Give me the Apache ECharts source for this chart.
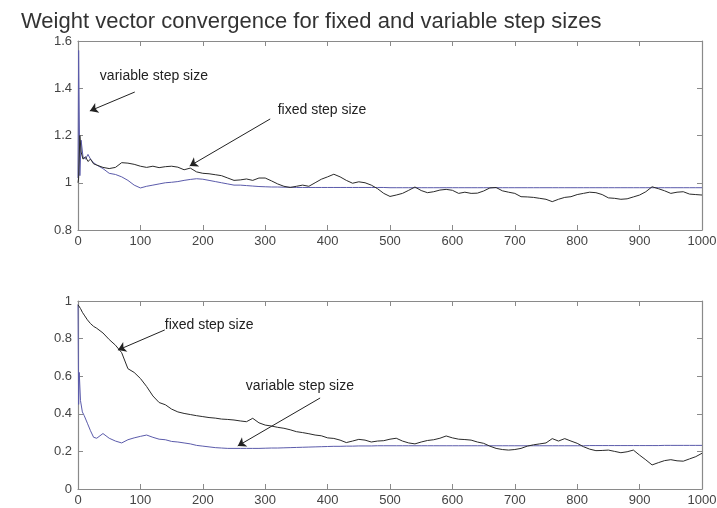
<!DOCTYPE html>
<html>
<head>
<meta charset="utf-8">
<script src="https://cdn.jsdelivr.net/npm/echarts@6/dist/echarts.min.js"></script>
<style>html,body{margin:0;padding:0;background:#fff}#c{width:717px;height:508px}</style>
</head>
<body>
<div id="c"></div>
<script>
var titleText = "Weight vector convergence for fixed and variable step sizes";
var xTicks = [0,100,200,300,400,500,600,700,800,900,1000];

var topX = [0,1,3,5,8,12,16,20,25,30,40,50,60,70,80,90,100,110,120,130,140,150,160,170,180,190,200,210,220,230,240,250,260,270,280,290,300,310,320,330,340,350,360,370,380,390,400,410,420,430,440,450,460,470,480,490,500,510,520,530,540,550,560,570,580,590,600,610,620,630,640,650,660,670,680,690,700,710,720,730,740,750,760,770,780,790,800,810,820,830,840,850,860,870,880,890,900,910,920,930,940,950,960,970,980,990,1000];
var topFixed = [1.0,1.02,1.2,1.13,1.1,1.11,1.09,1.1,1.08,1.075,1.065,1.06,1.065,1.085,1.083,1.078,1.07,1.065,1.07,1.064,1.068,1.07,1.066,1.055,1.062,1.046,1.04,1.038,1.034,1.03,1.02,1.01,1.012,1.016,1.01,1.02,1.02,1.008,0.995,0.985,0.98,0.985,0.99,0.985,1.0,1.015,1.025,1.036,1.025,1.01,0.998,1.004,1.0,0.99,0.975,0.955,0.942,0.948,0.955,0.968,0.982,0.967,0.958,0.962,0.969,0.972,0.968,0.955,0.96,0.955,0.956,0.965,0.978,0.98,0.966,0.96,0.955,0.941,0.94,0.938,0.934,0.93,0.92,0.93,0.938,0.941,0.95,0.955,0.96,0.958,0.95,0.936,0.934,0.93,0.932,0.94,0.948,0.962,0.983,0.975,0.966,0.955,0.96,0.962,0.952,0.95,0.948];
var topVariable = [1.02,1.56,1.03,1.18,1.11,1.1,1.12,1.1,1.085,1.075,1.06,1.04,1.035,1.025,1.01,0.99,0.978,0.985,0.99,0.995,1.0,1.002,1.005,1.01,1.014,1.017,1.015,1.01,1.005,1.0,0.995,0.99,0.99,0.988,0.986,0.984,0.983,0.982,0.982,0.981,0.981,0.98,0.98,0.98,0.98,0.98,0.98,0.98,0.98,0.98,0.98,0.98,0.98,0.98,0.98,0.98,0.979,0.979,0.979,0.979,0.979,0.979,0.979,0.979,0.979,0.979,0.979,0.979,0.979,0.979,0.979,0.979,0.979,0.979,0.979,0.979,0.979,0.979,0.979,0.979,0.979,0.979,0.979,0.979,0.979,0.979,0.979,0.979,0.979,0.979,0.979,0.979,0.979,0.979,0.979,0.979,0.979,0.979,0.979,0.979,0.979,0.979,0.979,0.979,0.979,0.979,0.979];

var botX = [0,1,2,4,7,10,15,20,25,30,40,50,60,70,80,90,100,110,120,130,140,150,160,170,180,190,200,210,220,230,240,250,260,270,280,290,300,310,320,330,340,350,360,370,380,390,400,410,420,430,440,450,460,470,480,490,500,510,520,530,540,550,560,570,580,590,600,610,620,630,640,650,660,670,680,690,700,710,720,730,740,750,760,770,780,790,800,810,820,830,840,850,860,870,880,890,900,910,920,930,940,950,960,970,980,990,1000];
var botFixed = [0.98,0.99,0.98,0.96,0.94,0.925,0.9,0.88,0.865,0.855,0.83,0.795,0.765,0.725,0.64,0.62,0.588,0.545,0.495,0.46,0.448,0.425,0.41,0.402,0.396,0.39,0.385,0.38,0.377,0.372,0.37,0.367,0.362,0.358,0.376,0.352,0.34,0.335,0.328,0.323,0.315,0.305,0.3,0.294,0.287,0.283,0.272,0.269,0.26,0.247,0.255,0.264,0.26,0.25,0.255,0.257,0.265,0.27,0.255,0.245,0.24,0.25,0.258,0.262,0.27,0.282,0.272,0.265,0.263,0.26,0.25,0.243,0.228,0.216,0.21,0.207,0.21,0.216,0.228,0.235,0.24,0.245,0.268,0.255,0.268,0.255,0.243,0.225,0.212,0.204,0.205,0.207,0.2,0.193,0.198,0.207,0.18,0.155,0.128,0.14,0.151,0.156,0.15,0.148,0.16,0.172,0.19];
var botVariable = [0.98,0.45,0.62,0.47,0.41,0.39,0.35,0.31,0.275,0.27,0.295,0.27,0.255,0.245,0.262,0.272,0.28,0.287,0.275,0.265,0.262,0.253,0.25,0.245,0.24,0.232,0.228,0.224,0.22,0.218,0.216,0.216,0.216,0.216,0.216,0.216,0.217,0.218,0.218,0.219,0.22,0.221,0.222,0.223,0.224,0.225,0.226,0.227,0.227,0.228,0.228,0.229,0.229,0.229,0.23,0.23,0.23,0.23,0.23,0.23,0.23,0.23,0.23,0.23,0.23,0.23,0.23,0.23,0.23,0.23,0.23,0.23,0.23,0.23,0.23,0.23,0.23,0.23,0.23,0.23,0.23,0.23,0.23,0.23,0.23,0.23,0.23,0.23,0.231,0.231,0.231,0.231,0.231,0.231,0.231,0.231,0.231,0.231,0.231,0.231,0.232,0.232,0.232,0.232,0.232,0.232,0.232];

// annotations: [label x, label y], arrow [start, end] in data units
var topVarLabel = [35, 1.452], topVarArrow = [[91, 1.384], [19, 1.304]];
var topFixLabel = [320, 1.308], topFixArrow = [[308, 1.27], [179, 1.071]];
var botFixLabel = [139, 0.872], botFixArrow = [[139, 0.846], [64, 0.739]];
var botVarLabel = [269, 0.548], botVarArrow = [[388, 0.484], [256, 0.229]];

function pairs(xs, ys){ return xs.map(function(x,i){ return [x, ys[i]]; }); }

var axisColor = '#8a8a8a';
var labelStyle = {color:'#444', fontSize:13, fontFamily:'Liberation Sans, Arial, sans-serif'};

function xAx(gi, pos, showLabel){
  return {type:'value', gridIndex:gi, position:pos, min:0, max:1000, interval:100,
    axisLine:{show:true, onZero:false, lineStyle:{color:axisColor, width:1.2}},
    axisTick:{show:true, inside:true, length:5, lineStyle:{color:axisColor}},
    axisLabel:Object.assign({show:showLabel, margin:5, formatter:function(v){return String(Math.round(v));}}, labelStyle),
    splitLine:{show:false}};
}
function yAx(gi, pos, mn, mx, showLabel){
  return {type:'value', gridIndex:gi, position:pos, min:mn, max:mx, interval:0.2,
    axisLine:{show:true, onZero:false, lineStyle:{color:axisColor, width:1.2}},
    axisTick:{show:true, inside:true, length:5, lineStyle:{color:axisColor}},
    axisLabel:Object.assign({show:showLabel, margin:6, formatter:function(v){return String(Math.round(v*10)/10);}}, labelStyle),
    splitLine:{show:false}};
}
function ann(label, text, arrow){
  return {
    markPoint:{silent:true, symbol:'circle', symbolSize:0, animation:false,
      label:{show:true, position:'right', distance:0, formatter:text, color:'#222', fontSize:14, fontFamily:'Liberation Sans, Arial, sans-serif'},
      data:[{coord:label}]},
    markLine:{silent:true, symbol:['none','arrow'], symbolSize:8, animation:false,
      label:{show:false}, lineStyle:{color:'#222', width:1, type:'solid'},
      data:[[{coord:arrow[0]},{coord:arrow[1]}]]}
  };
}

var chart = echarts.init(document.getElementById('c'), null, {renderer:'canvas'});
var blue = '#5b5bab', black = '#2a2a2a';
chart.setOption({
  animation:false,
  backgroundColor:'#fff',
  title:{text:titleText, left:16, top:6, textStyle:{color:'#333', fontSize:22, fontWeight:'normal', fontFamily:'Liberation Sans, Arial, sans-serif'}},
  grid:[
    {left:78, right:15, top:41, height:189, outerBoundsMode:'none'},
    {left:78, right:15, top:301, height:188, outerBoundsMode:'none'}
  ],
  xAxis:[xAx(0,'bottom',true), xAx(0,'top',false), xAx(1,'bottom',true), xAx(1,'top',false)],
  yAxis:[yAx(0,'left',0.8,1.6,true), yAx(0,'right',0.8,1.6,false), yAx(1,'left',0,1,true), yAx(1,'right',0,1,false)],
  series:[
    Object.assign({type:'line', xAxisIndex:0, yAxisIndex:0, data:pairs(topX, topFixed), showSymbol:false, symbol:'none', lineStyle:{color:black, width:1}, z:3}, ann(topFixLabel, 'fixed step size', topFixArrow)),
    Object.assign({type:'line', xAxisIndex:0, yAxisIndex:0, data:pairs(topX, topVariable), showSymbol:false, symbol:'none', lineStyle:{color:blue, width:1}, z:2}, ann(topVarLabel, 'variable step size', topVarArrow)),
    Object.assign({type:'line', xAxisIndex:2, yAxisIndex:2, data:pairs(botX, botFixed), showSymbol:false, symbol:'none', lineStyle:{color:black, width:1}, z:3}, ann(botFixLabel, 'fixed step size', botFixArrow)),
    Object.assign({type:'line', xAxisIndex:2, yAxisIndex:2, data:pairs(botX, botVariable), showSymbol:false, symbol:'none', lineStyle:{color:blue, width:1}, z:2}, ann(botVarLabel, 'variable step size', botVarArrow))
  ]
});
</script>
</body>
</html>
